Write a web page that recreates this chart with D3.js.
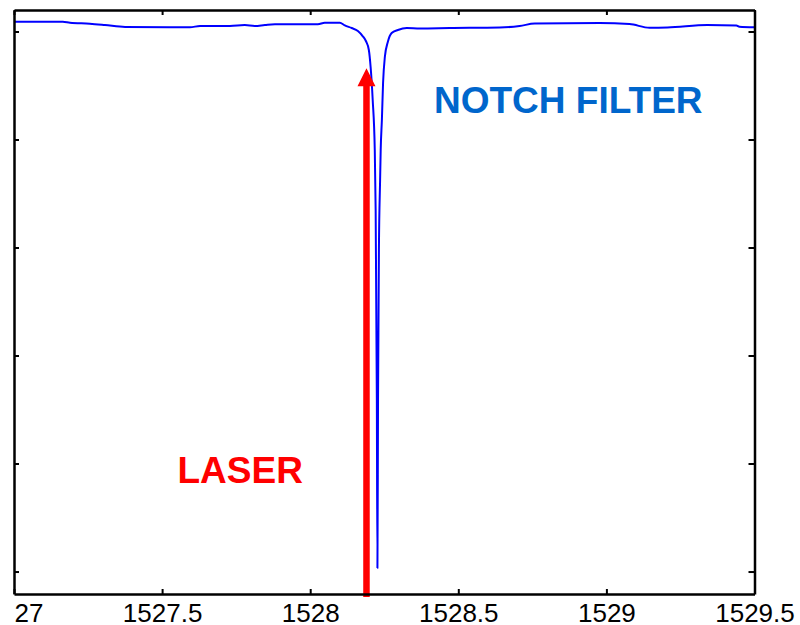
<!DOCTYPE html>
<html>
<head>
<meta charset="utf-8">
<script src="https://cdn.jsdelivr.net/npm/d3@7/dist/d3.min.js"></script>
<style>
  html, body { margin: 0; padding: 0; background: #fff; }
  svg { display: block; }
  text { font-family: "Liberation Sans", Arial, Helvetica, sans-serif; }
</style>
</head>
<body>
<svg id="chart" width="800" height="625"></svg>
<script>
// Filter transmission spectrum (wavelength in nm, transmission in dB)
const wavelength = [
  1527.000, 1527.165, 1527.189, 1527.256, 1527.307, 1527.375, 1527.594, 1527.628,
  1527.729, 1527.779, 1527.813, 1527.847, 1527.881, 1528.026, 1528.049, 1528.100,
  1528.117, 1528.140, 1528.161, 1528.177, 1528.188, 1528.198, 1528.204, 1528.211,
  1528.218, 1528.221, 1528.225, 1528.227, 1528.229, 1528.232, 1528.236, 1528.238,
  1528.242, 1528.246, 1528.252, 1528.262, 1528.275, 1528.296, 1528.326, 1528.370,
  1528.471, 1528.640, 1528.707, 1528.758, 1528.977, 1529.078, 1529.146, 1529.206,
  1529.341, 1529.439, 1529.449, 1529.500
];
const transmission = [
   0.91,  0.91,  0.81,  0.72,  0.60,  0.42,  0.39,  0.51,
   0.51,  0.60,  0.51,  0.60,  0.67,  0.67,  0.81,  0.81,
   0.56,  0.32,  0.05, -0.42, -0.88, -1.71, -3.29, -6.34,
 -10.97, -16.53, -34.12, -49.68, -34.12, -20.23, -13.75, -10.97,
  -8.19, -4.77, -2.36, -0.97, -0.14,  0.14,  0.32,  0.28,
   0.32,  0.37,  0.51,  0.74,  0.79,  0.69,  0.35,  0.37,
   0.60,  0.56,  0.44,  0.39
];

// Axis ticks
const xTicks = [1527, 1527.5, 1528, 1528.5, 1529, 1529.5];
const xTickLabels = ["1527", "1527.5", "1528", "1528.5", "1529", "1529.5"];
const yTicks = [0, -10, -20, -30, -40, -50];

// Annotations
const laserWavelength = 1528.19;
const laserTipLevel = -3.4;
const notchLabel = "NOTCH FILTER";
const laserLabel = "LASER";

const svg = d3.select("#chart");
const plotLeft = 14, plotRight = 754.5, plotTop = 10, plotBottom = 594;

const x = d3.scaleLinear().domain([1527, 1529.5]).range([plotLeft, plotRight]);
const y = d3.scaleLinear().domain([-52.08, 1.99]).range([plotBottom, plotTop]);

const data = wavelength.map((w, i) => ({ w, t: transmission[i] }));

const defs = svg.append("defs");
defs.append("clipPath").attr("id", "plot-clip")
  .append("rect").attr("x", plotLeft).attr("y", plotTop)
  .attr("width", plotRight - plotLeft).attr("height", plotBottom - plotTop);
// tick labels are trimmed at the frame's left edge
defs.append("clipPath").attr("id", "label-clip")
  .append("rect").attr("x", plotLeft + 1).attr("y", plotBottom)
  .attr("width", 800).attr("height", 60);

// Spectrum trace
svg.append("path")
  .datum(data)
  .attr("clip-path", "url(#plot-clip)")
  .attr("fill", "none")
  .attr("stroke", "#0000ff")
  .attr("stroke-width", 2)
  .attr("stroke-linejoin", "round")
  .attr("d", d3.line().curve(d3.curveMonotoneX).x(d => x(d.w)).y(d => y(d.t)));

// Laser arrow
const ax = x(laserWavelength);
const tipY = y(laserTipLevel);
const headLen = 18, headHalf = 9, shaftHalf = 3.25;
const baseY = plotBottom + 3;
svg.append("path")
  .attr("fill", "#ff0000")
  .attr("d", [
    "M", ax - shaftHalf, baseY,
    "L", ax - shaftHalf, tipY + headLen,
    "L", ax - headHalf, tipY + headLen,
    "L", ax, tipY,
    "L", ax + headHalf, tipY + headLen,
    "L", ax + shaftHalf, tipY + headLen,
    "L", ax + shaftHalf, baseY, "Z"
  ].join(" "));

// Axes: ticks point inward on all four sides
function styleAxis(g) {
  g.select(".domain").attr("stroke", "#000").attr("stroke-width", 2.5);
  g.selectAll(".tick line").attr("stroke", "#000").attr("stroke-width", 2);
}

// bottom axis line and ticks
const xb = svg.append("g").attr("transform", `translate(0,${plotBottom})`)
  .call(d3.axisBottom(x).tickValues(xTicks).tickFormat("").tickSizeInner(-5).tickSizeOuter(0));
styleAxis(xb);

// bottom tick labels, in their own clipped group
const xl = svg.append("g").attr("clip-path", "url(#label-clip)")
  .append("g").attr("transform", `translate(0,${plotBottom})`)
  .call(d3.axisBottom(x).tickValues(xTicks)
    .tickFormat((d, i) => xTickLabels[i]).tickSize(0));
xl.select(".domain").remove();
xl.selectAll(".tick line").remove();
xl.selectAll(".tick text")
  .attr("y", 27.5).attr("dy", 0)
  .attr("fill", "#000")
  .style("font-size", "26px");

const xt = svg.append("g").attr("transform", `translate(0,${plotTop})`)
  .call(d3.axisTop(x).tickValues(xTicks).tickFormat("").tickSizeInner(-5).tickSizeOuter(0));
styleAxis(xt);

const yl = svg.append("g").attr("transform", `translate(${plotLeft},0)`)
  .call(d3.axisLeft(y).tickValues(yTicks).tickFormat("").tickSizeInner(-5).tickSizeOuter(0));
styleAxis(yl);

const yr = svg.append("g").attr("transform", `translate(${plotRight},0)`)
  .call(d3.axisRight(y).tickValues(yTicks).tickFormat("").tickSizeInner(-6).tickSizeOuter(0));
styleAxis(yr);

// Labels
svg.append("text")
  .attr("x", 434).attr("y", 113)
  .attr("fill", "#0066cc")
  .style("font-size", "37px").style("font-weight", "bold")
  .text(notchLabel);

svg.append("text")
  .attr("x", 177.5).attr("y", 482.5)
  .attr("fill", "#ff0000")
  .style("font-size", "37px").style("font-weight", "bold")
  .text(laserLabel);
</script>
</body>
</html>
